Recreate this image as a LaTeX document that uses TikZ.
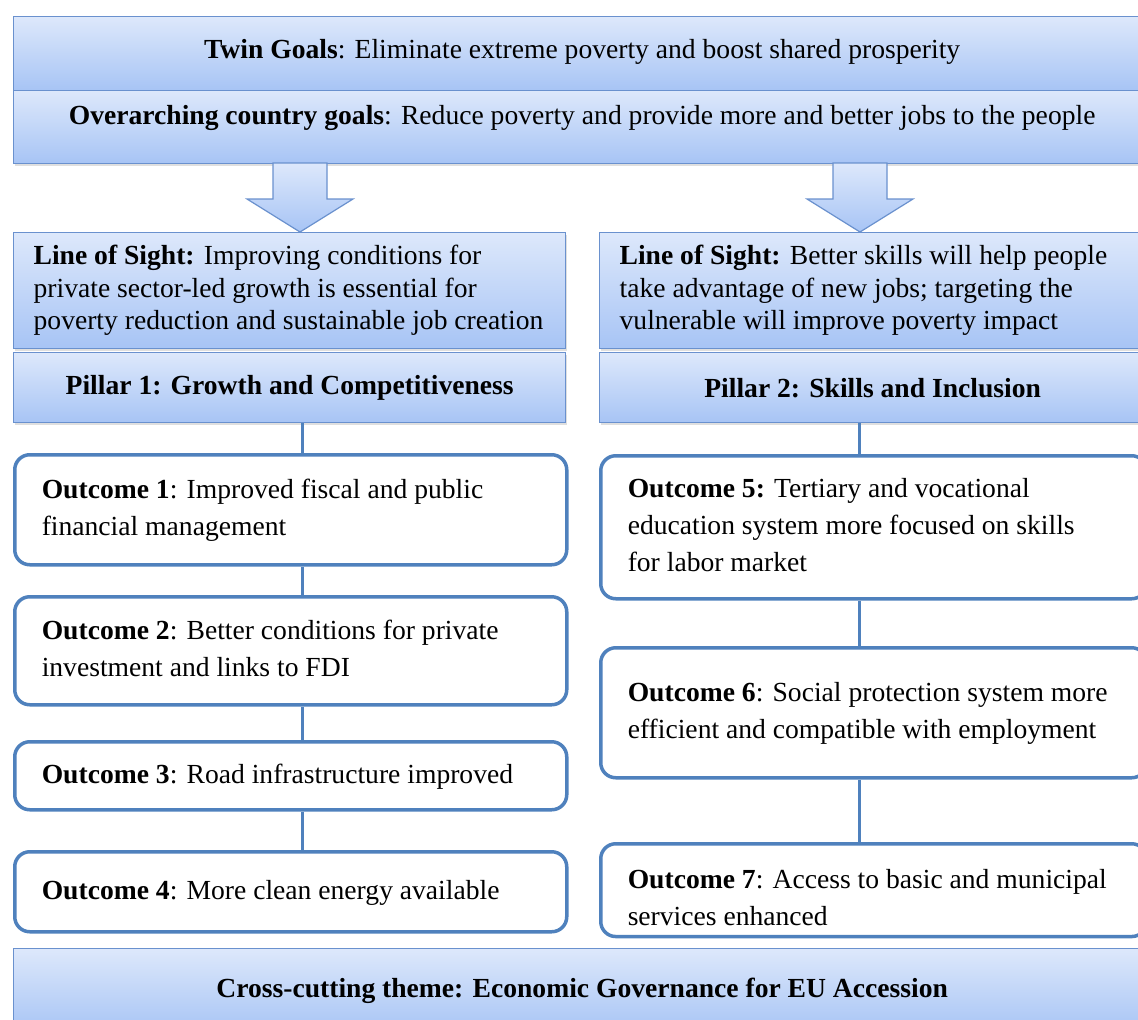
\documentclass[tikz,border=0pt]{standalone}
\usepackage{fontspec}
\setmainfont{Liberation Serif}
\usetikzlibrary{calc,shadows}
\definecolor{boxtop}{HTML}{DDE8FB}
\definecolor{boxbot}{HTML}{A7C4F5}
\definecolor{boxline}{HTML}{6A91CE}
\definecolor{outblue}{HTML}{4F81BD}
\def\planfont{\fontsize{27.6}{37}\selectfont}
\def\sightfont{\fontsize{27.6}{32.5}\selectfont}
% left set lines that never wrap
\newcommand\boxlines[2]{\makebox[#1][l]{\begin{tabular}{@{}l@{}}#2\end{tabular}}}
\tikzset{
  band/.style={draw=boxline, line width=1.3pt, top color=boxtop, bottom color=boxbot,
    anchor=north west, inner sep=0pt, font=\planfont,
    drop shadow={opacity=0.25, shadow xshift=1.5pt, shadow yshift=-2.5pt}},
  sight/.style={band, inner xsep=20pt, font=\sightfont},
  outcome/.style={draw=outblue, line width=3.5pt, rounded corners=15pt, fill=white,
    anchor=north west, inner xsep=27pt, inner ysep=0pt, font=\planfont},
  link/.style={draw=outblue, line width=3pt},
  bigarrow/.style={draw=boxline, line width=1.2pt, top color=boxtop, bottom color=boxbot}
}

\begin{document}
\begin{tikzpicture}[x=1pt,y=-1pt]
\useasboundingbox (0,0) rectangle (1138,1020);

% goals on top
\node[band, minimum width=1137pt, minimum height=74pt, text depth=9pt] (twin) at (13,16)
  {\textbf{Twin Goals}: Eliminate extreme poverty and boost shared prosperity};
\node[band, minimum width=1137pt, minimum height=73pt, text depth=25pt] (country) at (13,90)
  {\textbf{Overarching country goals}: Reduce poverty and provide more and better jobs to the people};

% the two block arrows, relative to their top points
\coordinate (arrL) at (300,163);
\coordinate (arrR) at (860,163);
\draw[bigarrow] ($ (arrL) + (-27,0) $) -- ($ (arrL) + (27,0) $) -- ($ (arrL) + (27,36) $)
  -- ($ (arrL) + (53,36) $) -- ($ (arrL) + (0,69) $) -- ($ (arrL) + (-53,36) $)
  -- ($ (arrL) + (-27,36) $) -- cycle;
\draw[bigarrow] ($ (arrR) + (-27,0) $) -- ($ (arrR) + (27,0) $) -- ($ (arrR) + (27,36) $)
  -- ($ (arrR) + (53,36) $) -- ($ (arrR) + (0,69) $) -- ($ (arrR) + (-53,36) $)
  -- ($ (arrR) + (-27,36) $) -- cycle;

% pillar 1
\node[sight, minimum height=116pt] (losL) at (13,232)
  {\boxlines{512pt}{\textbf{Line of Sight:} Improving conditions for\\
   private sector-led growth is essential\ for\\
   poverty reduction and sustainable job creation}};
\node[band, minimum width=552pt, minimum height=70pt] (pillarL) at (13,352)
  {\textbf{Pillar 1: Growth and Competitiveness}};

% pillar 2
\node[sight, minimum height=116pt] (losR) at (599,232)
  {\boxlines{506pt}{\textbf{Line of Sight:} Better skills will help people\\
   take advantage of new jobs; targeting the\\
   vulnerable will improve poverty impact}};
\node[band, minimum width=546pt, minimum height=70pt] (pillarR) at (599,352)
  {\textbf{Pillar 2: Skills and Inclusion}};

% outcomes under pillar 1
\node[outcome, minimum height=110pt] (out1) at (13,453)
  {\boxlines{498pt}{\textbf{Outcome 1}: Improved fiscal and public\\ financial management}};
\node[outcome, minimum height=108pt] (out2) at (13,595)
  {\boxlines{498pt}{\textbf{Outcome 2}: Better conditions for private\\ investment and links to FDI}};
\node[outcome, minimum height=68pt] (out3) at (13,740)
  {\boxlines{498pt}{\textbf{Outcome 3}: Road infrastructure improved}};
\node[outcome, minimum height=80pt, text depth=12pt] (out4) at (13,850)
  {\boxlines{498pt}{\textbf{Outcome 4}: More clean energy available}};

% outcomes under pillar 2
\node[outcome, minimum height=143pt] (out5) at (599,454)
  {\boxlines{492pt}{\textbf{Outcome 5:} Tertiary and vocational\\ education system more focused on skills\\ for labor market}};
\node[outcome, minimum height=130pt] (out6) at (599,646)
  {\boxlines{492pt}{\textbf{Outcome 6}: Social protection system more\\ efficient and compatible with employment}};
\node[outcome, minimum height=90pt, text height=62pt] (out7) at (599,842)
  {\boxlines{492pt}{\textbf{Outcome 7}: Access to basic and municipal\\ services enhanced}};

% connectors
\coordinate (stemL) at (302,0);
\coordinate (stemR) at (859,0);
\draw[link] (pillarL.south -| stemL) -- (out1.north -| stemL);
\draw[link] (out1.south -| stemL) -- (out2.north -| stemL);
\draw[link] (out2.south -| stemL) -- (out3.north -| stemL);
\draw[link] (out3.south -| stemL) -- (out4.north -| stemL);
\draw[link] (pillarR.south -| stemR) -- (out5.north -| stemR);
\draw[link] (out5.south -| stemR) -- (out6.north -| stemR);
\draw[link] (out6.south -| stemR) -- (out7.north -| stemR);

% bottom band
\node[band, minimum width=1137pt, minimum height=84pt] (cross) at (13,948)
  {\textbf{Cross-cutting theme: Economic Governance for EU Accession}};
\end{tikzpicture}
\end{document}
